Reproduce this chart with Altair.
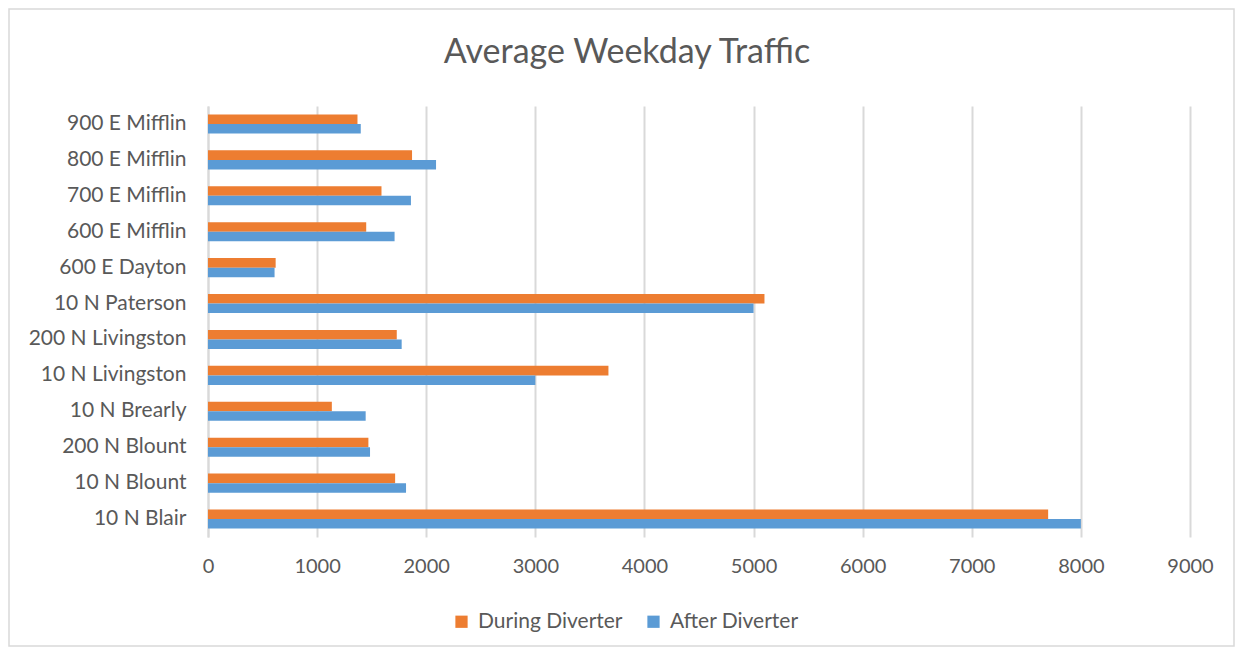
import altair as alt
import pandas as pd

categories = ["900 E Mifflin", "800 E Mifflin", "700 E Mifflin", "600 E Mifflin",
              "600 E Dayton", "10 N Paterson", "200 N Livingston", "10 N Livingston",
              "10 N Brearly", "200 N Blount", "10 N Blount", "10 N Blair"]
during = [1370, 1870, 1590, 1450, 620, 5100, 1730, 3670, 1135, 1470, 1715, 7700]
after = [1400, 2090, 1860, 1710, 610, 5000, 1775, 3000, 1445, 1485, 1815, 8000]
series = ["During Diverter", "After Diverter"]
colors = ["#ED7D31", "#5B9BD5"]
ticks = list(range(0, 9001, 1000))
title_text = ["Average Weekday Traffic"]

rows = []
for c, d, a in zip(categories, during, after):
    rows.append({"cat": c, "series": series[0], "value": d})
    rows.append({"cat": c, "series": series[1], "value": a})
df = pd.DataFrame(rows)

FONT = "Lato"
TXT = "#595959"
FS = 21

bars = alt.Chart(df).mark_bar().encode(
    x=alt.X("value:Q",
            scale=alt.Scale(domain=[0, 9000], nice=False),
            axis=alt.Axis(values=ticks, format="d", grid=True, gridColor="#d9d9d9",
                          gridWidth=2, domain=False, ticks=False, labelFontSize=20,
                          labelFlush=False, labelColor=TXT, labelFont=FONT,
                          labelPadding=19, title=None)),
    y=alt.Y("cat:N", sort=categories,
            scale=alt.Scale(paddingInner=0.47, paddingOuter=0.235),
            axis=alt.Axis(domain=True, domainColor="#d9d9d9", domainWidth=2, ticks=False,
                          labelFontSize=FS, labelColor=TXT, labelFont=FONT,
                          labelPadding=22, title=None)),
    yOffset=alt.YOffset("series:N", sort=series),
    color=alt.Color("series:N", sort=series,
                    scale=alt.Scale(domain=series, range=colors),
                    legend=alt.Legend(orient="none", legendX=243, legendY=505,
                                      direction="horizontal", title=None,
                                      symbolType="square", symbolSize=150,
                                      symbolStrokeWidth=0,
                                      labelFontSize=FS, labelColor=TXT, labelFont=FONT,
                                      columnPadding=20, labelOffset=6)),
)

border = alt.Chart(pd.DataFrame({"a": [0]})).mark_rect(
    fill=None, stroke="#d9d9d9", strokeWidth=1.5
).encode(
    x=alt.value(-199), x2=alt.value(1026), y=alt.value(-97), y2=alt.value(540)
)

title = alt.Chart(pd.DataFrame({"t": title_text})).mark_text(
    font=FONT, fontSize=34, color=TXT, align="center", baseline="middle"
).encode(
    text="t:N", x=alt.value(419), y=alt.value(-53)
)

chart = alt.layer(border, title, bars).properties(
    width=982, height=431,
    autosize=alt.AutoSizeParams(type="none"),
    padding={"left": 200, "top": 98, "right": 46, "bottom": 111},
).configure_view(stroke=None)

chart.save("out.html", embed_options={"renderer": "svg", "actions": False})
